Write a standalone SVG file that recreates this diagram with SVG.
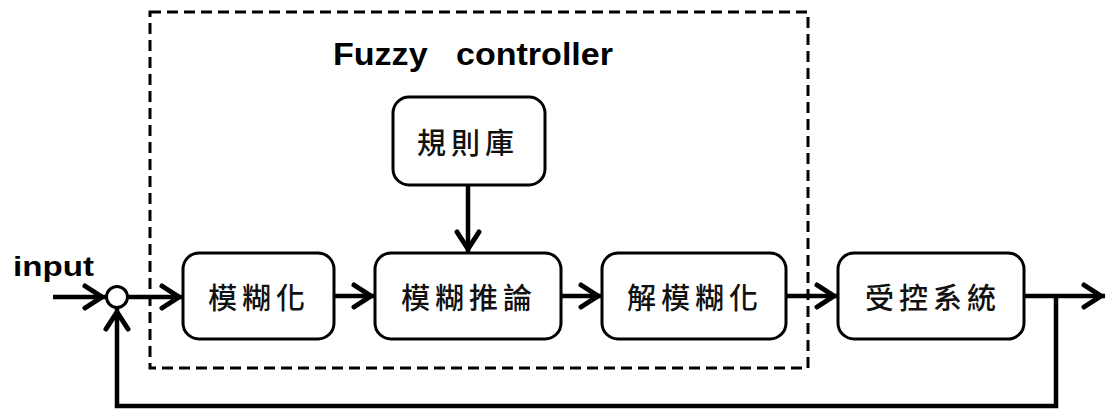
<svg xmlns="http://www.w3.org/2000/svg" width="1107" height="409" viewBox="0 0 1107 409">
<style>
.box{fill:#fff;stroke:#000;stroke-width:3}
.cjk{font-family:"Noto Sans CJK TC","Noto Sans CJK SC",sans-serif;font-size:29px;font-weight:500;letter-spacing:5px;fill:#111;dominant-baseline:central}
.lat{font-family:"Liberation Sans",Arial,sans-serif;font-weight:bold;fill:#000}
.con{fill:none;stroke:#000;stroke-width:4.5}
</style>
<defs>
<marker id="arr" markerUnits="userSpaceOnUse" orient="auto" markerWidth="30" markerHeight="30" viewBox="-25 -15 30 30" refX="0" refY="0" overflow="visible">
<path d="M-21,-11 L-4,0 L-21,11" fill="none" stroke="#000" stroke-width="5" stroke-linecap="round"/>
</marker>
</defs>
<rect x="0" y="0" width="1107" height="409" fill="#fff"/>
<g id="fuzzy-controller">
<rect x="150" y="12" width="658" height="356" fill="none" stroke="#000" stroke-width="3" stroke-dasharray="11 6"/>
<text class="lat" x="333" y="65" font-size="31" textLength="280" lengthAdjust="spacingAndGlyphs" xml:space="preserve">Fuzzy   controller</text>
</g>
<g id="input-label"><text class="lat" x="13" y="276" font-size="27" textLength="81" lengthAdjust="spacingAndGlyphs">input</text></g>
<g id="connectors">
<line class="con" x1="53" y1="297" x2="106" y2="297" marker-end="url(#arr)"/>
<line class="con" x1="128" y1="297" x2="183" y2="297" marker-end="url(#arr)"/>
<line class="con" x1="334" y1="296" x2="375" y2="296" marker-end="url(#arr)"/>
<line class="con" x1="561" y1="296" x2="602" y2="296" marker-end="url(#arr)"/>
<line class="con" x1="785" y1="296" x2="838" y2="296" marker-end="url(#arr)"/>
<line class="con" x1="1024" y1="296" x2="1105" y2="296" marker-end="url(#arr)"/>
<line class="con" x1="468" y1="185" x2="468" y2="253" marker-end="url(#arr)"/>
<polyline class="con" points="1056,296 1056,406 117,406 117,308" marker-end="url(#arr)"/>
</g>
<g id="sum"><circle cx="117" cy="297" r="10.5" fill="#fff" stroke="#000" stroke-width="3"/></g>
<g id="rules"><rect class="box" x="393" y="97" width="152" height="88" rx="16"/><text class="cjk" x="417" y="141">規則庫</text></g>
<g id="fuzzify"><rect class="box" x="183" y="253" width="151" height="86" rx="16"/><text class="cjk" x="208" y="296">模糊化</text></g>
<g id="inference"><rect class="box" x="375" y="253" width="186" height="86" rx="16"/><text class="cjk" x="401" y="296">模糊推論</text></g>
<g id="defuzzify"><rect class="box" x="602" y="253" width="184" height="86" rx="16"/><text class="cjk" x="627" y="296">解模糊化</text></g>
<g id="plant"><rect class="box" x="838" y="253" width="186" height="86" rx="16"/><text class="cjk" x="865" y="296">受控系統</text></g>
</svg>
